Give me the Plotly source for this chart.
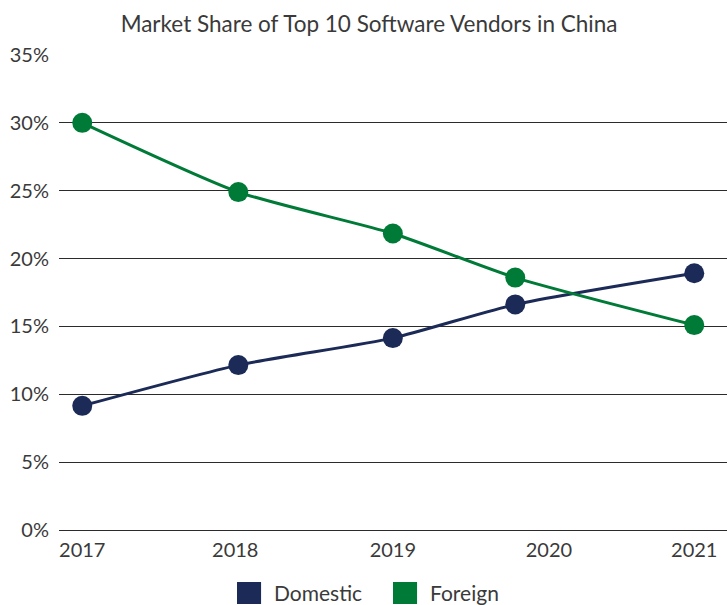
import plotly.graph_objects as go

## Data
# x position of each point along the year axis (the 2020 points sit a bit left of the 2020 label)
point_years = [2017, 2018.02, 2019.03, 2019.83, 2021]
domestic = [9.15, 12.15, 14.14, 16.62, 18.92]
foreign = [30.0, 24.9, 21.85, 18.6, 15.1]

tick_years = [2017, 2018, 2019.03, 2020.05, 2021]
tick_labels = ['2017', '2018', '2019', '2020', '2021']
y_ticks = [0, 5, 10, 15, 20, 25, 30, 35]

NAVY = 'rgb(27, 42, 86)'
GREEN = 'rgb(0, 122, 55)'
TEXT = '#3a3a3a'
FONT = 'Lato'

fig = go.Figure()

for name, vals, color in [('Domestic', domestic, NAVY), ('Foreign', foreign, GREEN)]:
    fig.add_trace(go.Scatter(
        x=point_years, y=vals, name=name,
        mode='lines+markers',
        line=dict(color=color, width=3, shape='spline', smoothing=0.6),
        marker=dict(color=color, size=20),
        showlegend=False,
        cliponaxis=False))

# hand drawn legend with big squares
legend_items = [('Domestic', NAVY, 0.2665), ('Foreign', GREEN, 0.5)]
shapes = []
annotations = []
for name, color, x0 in legend_items:
    shapes.append(dict(type='rect', xref='paper', yref='paper',
                       x0=x0, x1=x0 + 0.036, y0=-0.1558, y1=-0.1095,
                       fillcolor=color, line=dict(width=0)))
    annotations.append(dict(text=name, xref='paper', yref='paper',
                            x=x0 + 0.0525, y=-0.1326, xanchor='left', yanchor='middle',
                            showarrow=False, font=dict(family=FONT, size=21, color=TEXT)))

fig.update_layout(
    width=727, height=605, autosize=False,
    margin=dict(l=59, r=0, t=55, b=75),
    paper_bgcolor='white', plot_bgcolor='white',
    title=dict(text='Market Share of Top 10 Software Vendors in China',
               xref='container', yref='container', x=0.5076, y=0.9595,
               xanchor='center', yanchor='middle',
               font=dict(family=FONT, size=22.5, color=TEXT)),
    font=dict(family=FONT, size=20, color=TEXT),
    shapes=shapes,
    annotations=annotations,
    xaxis=dict(range=[2016.848, 2021.214], tickvals=tick_years, ticktext=tick_labels,
               showgrid=False, zeroline=False, showline=False, ticks='',
               ticklabelstandoff=6, tickfont=dict(family=FONT, size=20, color=TEXT)),
    yaxis=dict(range=[0, 35], tickvals=y_ticks, ticktext=[f'{v}%' for v in y_ticks],
               showgrid=True, gridcolor='#2b2b2b', gridwidth=1.3,
               zeroline=True, zerolinecolor='#2b2b2b', zerolinewidth=1.3,
               showline=False, ticks='', ticklabelstandoff=9,
               tickfont=dict(family=FONT, size=20, color=TEXT)))

# drop the default page margin so the figure sits at the window's corner
fig.write_html("out.html", config={'displayModeBar': False},
               post_script="document.body.style.margin='0';")
